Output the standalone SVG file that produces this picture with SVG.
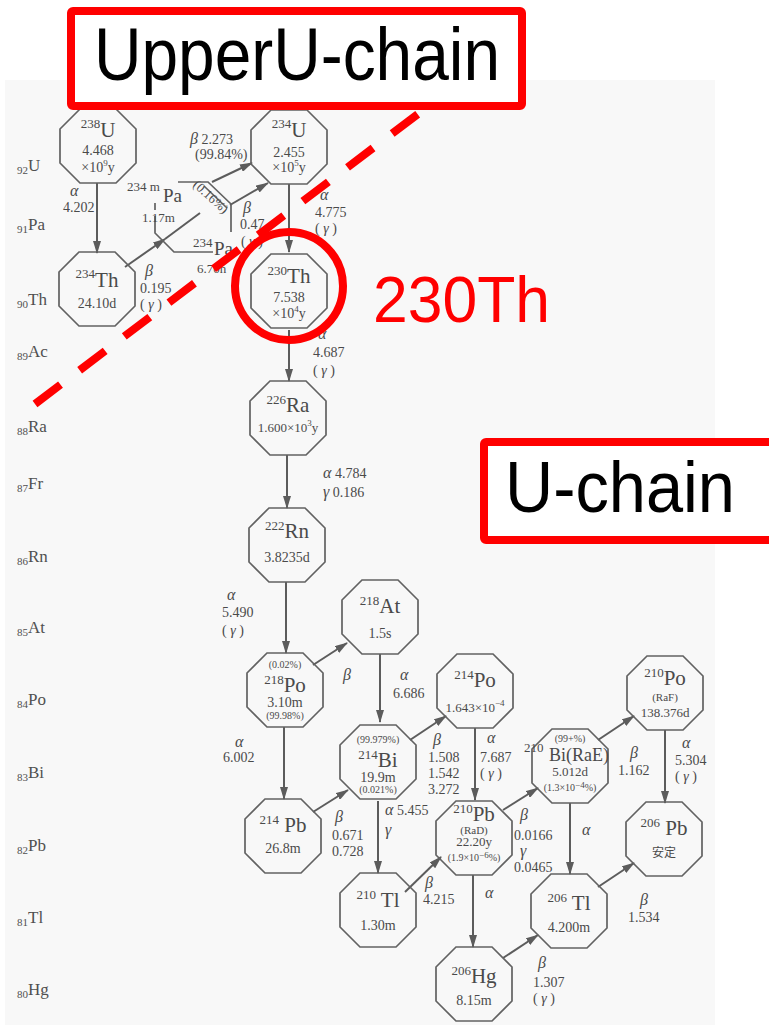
<svg xmlns="http://www.w3.org/2000/svg" width="769" height="1025" viewBox="0 0 769 1025">
<style>
.oct{fill:none;stroke:#626262;stroke-width:1.7}
.t{font-family:"Liberation Serif","Noto Sans CJK JP","Times New Roman",serif;fill:#4a4a4a;font-size:14px}
.c{text-anchor:middle}
.ms{font-size:13px}
.el{font-size:21px}
.sm{font-size:10px}
.f11{font-size:11px}
.f12{font-size:12px}
.f13{font-size:13px}
.f18{font-size:18px}
.f19{font-size:19px}
.sup{font-size:9px}
.g{font-style:italic;font-size:16px}
.lab{font-family:"Liberation Serif",serif;fill:#505050;font-size:17px}
.lab .z{font-size:11px}
#connectors line{stroke:#5c5c5c;stroke-width:2;marker-end:url(#ah)}
#connectors line.plain{marker-end:none}
.red{fill:none;stroke:#ff0000;stroke-width:8}
.big{font-family:"Liberation Sans",Arial,sans-serif;fill:#000}
</style>
<defs>
<marker id="ah" markerUnits="userSpaceOnUse" markerWidth="13" markerHeight="8" refX="12" refY="4" orient="auto">
<path d="M0,0 L13,4 L0,8 z" fill="#5c5c5c"/>
</marker>
<polygon id="oct" points="-18,-37 18,-37 38,-17 38,17 18,37 -18,37 -38,17 -38,-17"/>
</defs>
<rect width="769" height="1025" fill="#ffffff"/>
<rect x="5" y="80" width="710" height="945" fill="#f8f8f8"/>

<g id="element-labels" class="lab">
<text x="17" y="171"><tspan class="z" dy="3">92</tspan><tspan dy="-3">U</tspan></text>
<text x="17" y="230"><tspan class="z" dy="3">91</tspan><tspan dy="-3">Pa</tspan></text>
<text x="17" y="305"><tspan class="z" dy="3">90</tspan><tspan dy="-3">Th</tspan></text>
<text x="17" y="357"><tspan class="z" dy="3">89</tspan><tspan dy="-3">Ac</tspan></text>
<text x="17" y="432"><tspan class="z" dy="3">88</tspan><tspan dy="-3">Ra</tspan></text>
<text x="17" y="489"><tspan class="z" dy="3">87</tspan><tspan dy="-3">Fr</tspan></text>
<text x="17" y="562"><tspan class="z" dy="3">86</tspan><tspan dy="-3">Rn</tspan></text>
<text x="17" y="633"><tspan class="z" dy="3">85</tspan><tspan dy="-3">At</tspan></text>
<text x="17" y="705"><tspan class="z" dy="3">84</tspan><tspan dy="-3">Po</tspan></text>
<text x="17" y="778"><tspan class="z" dy="3">83</tspan><tspan dy="-3">Bi</tspan></text>
<text x="17" y="851"><tspan class="z" dy="3">82</tspan><tspan dy="-3">Pb</tspan></text>
<text x="17" y="923"><tspan class="z" dy="3">81</tspan><tspan dy="-3">Tl</tspan></text>
<text x="17" y="995"><tspan class="z" dy="3">80</tspan><tspan dy="-3">Hg</tspan></text>
</g>

<g id="connectors">
<line x1="97" y1="183" x2="97" y2="253"/>
<line x1="125" y1="267" x2="165" y2="239"/>
<line class="plain" x1="165" y1="239" x2="200" y2="213"/>
<line x1="212" y1="182" x2="252" y2="163"/>
<line x1="230" y1="205" x2="268" y2="183"/>
<line x1="289" y1="184" x2="289" y2="252"/>
<line x1="289" y1="330" x2="289" y2="381"/>
<line x1="287" y1="455" x2="287" y2="508"/>
<line x1="286" y1="582" x2="286" y2="653"/>
<line x1="313" y1="665" x2="347" y2="643"/>
<line x1="380" y1="654" x2="380" y2="722"/>
<line x1="284" y1="727" x2="284" y2="799"/>
<line x1="313" y1="812" x2="348" y2="790"/>
<line x1="410" y1="740" x2="446" y2="716"/>
<line x1="378" y1="801" x2="378" y2="873"/>
<line x1="475" y1="728" x2="475" y2="800"/>
<line x1="405" y1="892" x2="441" y2="857"/>
<line x1="503" y1="810" x2="538" y2="788"/>
<line x1="598" y1="740" x2="634" y2="716"/>
<line x1="665" y1="730" x2="665" y2="803"/>
<line x1="570" y1="803" x2="570" y2="874"/>
<line x1="473" y1="875" x2="473" y2="947"/>
<line x1="503" y1="958" x2="538" y2="935"/>
<line x1="598" y1="887" x2="634" y2="863"/>
</g>

<g id="decay-labels" class="t">
<text x="70" y="196" class="g">α</text><text x="63" y="212">4.202</text>
<text x="190" y="144"><tspan class="g">β</tspan> 2.273</text><text x="195" y="159">(99.84%)</text>
<text x="145" y="276" class="g">β</text><text x="140" y="293">0.195</text><text x="140" y="309">( <tspan font-style="italic">γ</tspan> )</text>
<text x="243" y="213" class="g">β</text><text x="240" y="229">0.47</text><text x="241" y="246">( <tspan font-style="italic">γ</tspan> )</text>
<text x="320" y="200" class="g">α</text><text x="315" y="217">4.775</text><text x="315" y="233">( <tspan font-style="italic">γ</tspan> )</text>
<text x="318" y="339" class="g">α</text><text x="313" y="357">4.687</text><text x="313" y="375">( <tspan font-style="italic">γ</tspan> )</text>
<text x="323" y="478"><tspan class="g">α</tspan>  4.784</text><text x="323" y="497"><tspan class="g">γ</tspan>  0.186</text>
<text x="227" y="600" class="g">α</text><text x="222" y="617">5.490</text><text x="222" y="635">( <tspan font-style="italic">γ</tspan> )</text>
<text x="343" y="680" class="g">β</text>
<text x="400" y="680" class="g">α</text><text x="393" y="698">6.686</text>
<text x="235" y="747" class="g">α</text><text x="223" y="762">6.002</text>
<text x="335" y="822" class="g">β</text><text x="332" y="840">0.671</text><text x="332" y="856">0.728</text>
<text x="385" y="815"><tspan class="g">α</tspan> 5.455</text><text x="385" y="835" class="g">γ</text>
<text x="433" y="745" class="g">β</text><text x="428" y="762">1.508</text><text x="428" y="778">1.542</text><text x="428" y="794">3.272</text>
<text x="487" y="743" class="g">α</text><text x="480" y="762">7.687</text><text x="480" y="778">( <tspan font-style="italic">γ</tspan> )</text>
<text x="425" y="888" class="g">β</text><text x="423" y="904">4.215</text>
<text x="520" y="820" class="g">β</text><text x="514" y="840">0.0166</text><text x="520" y="856" class="g">γ</text><text x="514" y="872">0.0465</text>
<text x="582" y="835" class="g">α</text>
<text x="485" y="898" class="g">α</text>
<text x="630" y="758" class="g">β</text><text x="618" y="775">1.162</text>
<text x="682" y="748" class="g">α</text><text x="675" y="765">5.304</text><text x="675" y="781">( <tspan font-style="italic">γ</tspan> )</text>
<text x="640" y="905" class="g">β</text><text x="628" y="922">1.534</text>
<text x="538" y="968" class="g">β</text><text x="533" y="987">1.307</text><text x="533" y="1003">( <tspan font-style="italic">γ</tspan> )</text>
</g>

<g id="n-U238">
<use href="#oct" x="98" y="146" class="oct"/>
<text class="t c" x="98" y="137"><tspan class="ms" dy="-9">238</tspan><tspan class="el" dy="9">U</tspan></text>
<text class="t c" x="98" y="155">4.468</text>
<text class="t c" x="98" y="172">×10<tspan class="sup" dy="-6">9</tspan><tspan dy="6">y</tspan></text>
</g>
<g id="n-U234">
<use href="#oct" x="289" y="147" class="oct"/>
<text class="t c" x="289" y="137"><tspan class="ms" dy="-9">234</tspan><tspan class="el" dy="9">U</tspan></text>
<text class="t c" x="289" y="157">2.455</text>
<text class="t c" x="289" y="172">×10<tspan class="sup" dy="-6">5</tspan><tspan dy="6">y</tspan></text>
</g>
<g id="n-Pa234">
<path class="oct" d="M178,182 L208,182 L231,204 L231,232 M213,252 L174,252 L155,233 L155,216 M155,210 L155,203"/>
<path class="oct" d="M204,186 L227,208"/>
<text class="t f13" x="127" y="191">234 m</text>
<text class="t f19" x="163" y="202">Pa</text>
<text class="t f13" x="142" y="222">1.17m</text>
<text class="t f13 c" x="208" y="200" transform="rotate(42 208 200)">(0.16%)</text>
<text class="t f13" x="193" y="247">234</text>
<text class="t f19" x="214" y="255">Pa</text>
<text class="t f13" x="197" y="273">6.70h</text>
</g>
<g id="n-Th234">
<use href="#oct" x="97" y="289" class="oct"/>
<text class="t c" x="97" y="287"><tspan class="ms" dy="-9">234</tspan><tspan class="el" dy="9">Th</tspan></text>
<text class="t c" x="97" y="308">24.10d</text>
</g>
<g id="n-Th230">
<use href="#oct" x="289" y="291" class="oct"/>
<text class="t c" x="289" y="283"><tspan class="ms" dy="-8">230</tspan><tspan class="el" dy="8">Th</tspan></text>
<text class="t c" x="289" y="302">7.538</text>
<text class="t c" x="289" y="318">×10<tspan class="sup" dy="-6">4</tspan><tspan dy="6">y</tspan></text>
</g>
<g id="n-Ra226">
<use href="#oct" x="288" y="418" class="oct"/>
<text class="t c" x="288" y="412"><tspan class="ms" dy="-8">226</tspan><tspan class="el" dy="8">Ra</tspan></text>
<text class="t c f13" x="288" y="432">1.600×10<tspan class="sup" dy="-6">3</tspan><tspan dy="6">y</tspan></text>
</g>
<g id="n-Rn222">
<use href="#oct" x="287" y="545" class="oct"/>
<text class="t c" x="287" y="538"><tspan class="ms" dy="-8">222</tspan><tspan class="el" dy="8">Rn</tspan></text>
<text class="t c" x="287" y="562">3.8235d</text>
</g>
<g id="n-At218">
<use href="#oct" x="380" y="617" class="oct"/>
<text class="t c" x="380" y="613"><tspan class="ms" dy="-8">218</tspan><tspan class="el" dy="8">At</tspan></text>
<text class="t c" x="380" y="638">1.5s</text>
</g>
<g id="n-Po218">
<use href="#oct" x="285" y="690" class="oct"/>
<text class="t c sm" x="285" y="668">(0.02%)</text>
<text class="t c" x="285" y="692"><tspan class="ms" dy="-8">218</tspan><tspan class="el" dy="8">Po</tspan></text>
<text class="t c" x="285" y="707">3.10m</text>
<text class="t c sm" x="285" y="719">(99.98%)</text>
</g>
<g id="n-Po214">
<use href="#oct" x="475" y="691" class="oct"/>
<text class="t c" x="475" y="687"><tspan class="ms" dy="-8">214</tspan><tspan class="el" dy="8">Po</tspan></text>
<text class="t c f13" x="475" y="712">1.643×10<tspan class="sup" dy="-6">−4</tspan></text>
</g>
<g id="n-Po210">
<use href="#oct" x="665" y="693" class="oct"/>
<text class="t c" x="665" y="685"><tspan class="ms" dy="-8">210</tspan><tspan class="el" dy="8">Po</tspan></text>
<text class="t c f11" x="665" y="701">(RaF)</text>
<text class="t c f13" x="665" y="717">138.376d</text>
</g>
<g id="n-Bi214">
<use href="#oct" x="378" y="762" class="oct"/>
<text class="t c sm" x="378" y="743">(99.979%)</text>
<text class="t c" x="378" y="767"><tspan class="ms" dy="-8">214</tspan><tspan class="el" dy="8">Bi</tspan></text>
<text class="t c" x="378" y="782">19.9m</text>
<text class="t c sm" x="378" y="793">(0.021%)</text>
</g>
<g id="n-Bi210">
<use href="#oct" x="570" y="766" class="oct"/>
<text class="t c sm" x="570" y="742">(99+%)</text>
<text class="t f13" x="524" y="752">210</text>
<text class="t f18" x="549" y="761">Bi(RaE)</text>
<text class="t c f13" x="570" y="776">5.012d</text>
<text class="t c sm" x="570" y="791">(1.3×10<tspan class="sup" dy="-3">−4</tspan><tspan dy="3">%)</tspan></text>
</g>
<g id="n-Pb214">
<use href="#oct" x="283" y="836" class="oct"/>
<text class="t c" x="283" y="832"><tspan class="ms" dy="-8">214</tspan><tspan class="el" dy="8"> Pb</tspan></text>
<text class="t c" x="283" y="853">26.8m</text>
</g>
<g id="n-Pb210">
<use href="#oct" x="474" y="838" class="oct"/>
<text class="t c" x="474" y="821"><tspan class="ms" dy="-8">210</tspan><tspan class="el" dy="8">Pb</tspan></text>
<text class="t c f11" x="474" y="834">(RaD)</text>
<text class="t c f13" x="474" y="846">22.20y</text>
<text class="t c sm" x="474" y="861">(1.9×10<tspan class="sup" dy="-3">−6</tspan><tspan dy="3">%)</tspan></text>
</g>
<g id="n-Pb206">
<use href="#oct" x="664" y="839" class="oct"/>
<text class="t c" x="664" y="835"><tspan class="ms" dy="-8">206</tspan><tspan class="el" dy="8"> Pb</tspan></text>
<text class="t c f12" x="664" y="857">安定</text>
</g>
<g id="n-Tl210">
<use href="#oct" x="378" y="910" class="oct"/>
<text class="t c" x="378" y="907"><tspan class="ms" dy="-8">210</tspan><tspan class="el" dy="8"> Tl</tspan></text>
<text class="t c" x="378" y="930">1.30m</text>
</g>
<g id="n-Tl206">
<use href="#oct" x="569" y="911" class="oct"/>
<text class="t c" x="569" y="910"><tspan class="ms" dy="-8">206</tspan><tspan class="el" dy="8"> Tl</tspan></text>
<text class="t c" x="569" y="932">4.200m</text>
</g>
<g id="n-Hg206">
<use href="#oct" x="474" y="984" class="oct"/>
<text class="t c" x="474" y="983"><tspan class="ms" dy="-8">206</tspan><tspan class="el" dy="8">Hg</tspan></text>
<text class="t c" x="474" y="1005">8.15m</text>
</g>

<g id="annotations">
<path class="red" d="M35,404 L418,114" stroke-dasharray="32 24"/>
<circle class="red" cx="289" cy="286" r="54"/>
<text class="big" x="373" y="322" font-size="64" style="fill:#ff0000" textLength="177" lengthAdjust="spacingAndGlyphs">230Th</text>
<g id="box-upper">
<rect x="71" y="11" width="451" height="95" rx="2" fill="#ffffff" stroke="#ff0000" stroke-width="8"/>
<text class="big" x="94" y="80" font-size="74" textLength="406" lengthAdjust="spacingAndGlyphs">UpperU-chain</text>
</g>
<g id="box-uchain">
<rect x="484" y="442" width="300" height="98" rx="2" fill="#ffffff" stroke="#ff0000" stroke-width="8"/>
<text class="big" x="505" y="512" font-size="72" textLength="230" lengthAdjust="spacingAndGlyphs">U-chain</text>
</g>
</g>
</svg>
